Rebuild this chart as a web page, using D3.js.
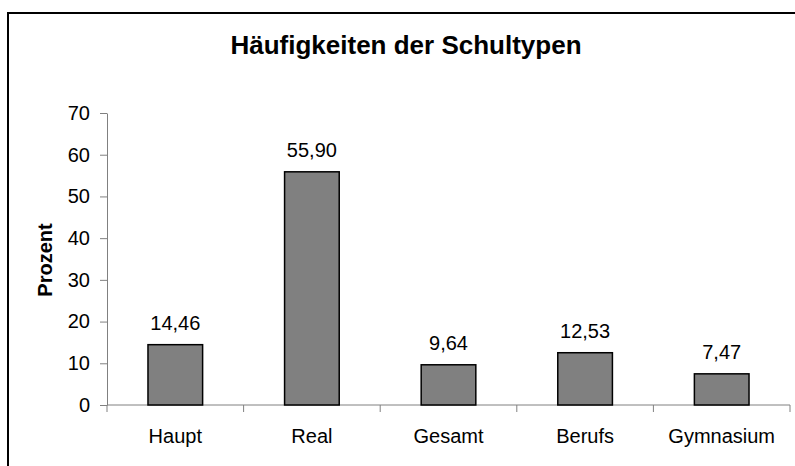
<!DOCTYPE html>
<html>
<head>
<meta charset="utf-8">
<script src="https://cdn.jsdelivr.net/npm/d3@7"></script>
<style>
    body { margin: 0; background: #fff; }
    text { font-family: "Liberation Sans", Arial, sans-serif; }
</style>
</head>
<body>
<div id="chart"></div>
<script>
const categories = ["Haupt", "Real", "Gesamt", "Berufs", "Gymnasium"];
const values = [14.46, 55.90, 9.64, 12.53, 7.47];
const yTicks = [0, 10, 20, 30, 40, 50, 60, 70];

const width = 795;
const height = 466;
const margin = {top: 113, right: 5, bottom: 61, left: 107};

const svg = d3.select("#chart")
    .append("svg")
    .attr("width", width)
    .attr("height", height);

// outer frame, cut off at right and bottom like the original
svg.append("rect")
    .attr("x", 8).attr("y", 13)
    .attr("width", 800).attr("height", 480)
    .attr("fill", "none")
    .attr("stroke", "#000")
    .attr("stroke-width", 2);

const x = d3.scaleBand()
    .domain(categories)
    .range([margin.left, width - margin.right])
    .paddingInner(0.6)
    .paddingOuter(0.3);

const y = d3.scaleLinear()
    .domain([0, 70])
    .range([height - margin.bottom, margin.top]);

// y axis
const yAxis = svg.append("g")
    .attr("transform", `translate(${margin.left},0)`)
    .call(d3.axisLeft(y).tickValues(yTicks).tickSize(7).tickSizeOuter(0).tickPadding(10));
yAxis.selectAll("text").attr("font-size", 20).attr("fill", "#000").attr("font-family", "Liberation Sans, Arial, sans-serif");
yAxis.select(".domain").attr("stroke", "#808080");
yAxis.selectAll(".tick line").attr("stroke", "#808080");

// x axis with ticks between categories
const xAxis = svg.append("g")
    .attr("transform", `translate(0,${y(0)})`);
xAxis.append("line")
    .attr("x1", margin.left).attr("x2", width - margin.right)
    .attr("stroke", "#808080");
const step = x.step();
const bounds = d3.range(categories.length + 1).map(i => margin.left + i * step);
xAxis.selectAll(".tk")
    .data(bounds)
    .join("line")
    .attr("x1", d => d).attr("x2", d => d)
    .attr("y1", 0).attr("y2", 7)
    .attr("stroke", "#808080");
xAxis.selectAll(".lbl")
    .data(categories)
    .join("text")
    .attr("x", d => x(d) + x.bandwidth() / 2)
    .attr("y", 38)
    .attr("text-anchor", "middle")
    .attr("font-size", 20)
    .text(d => d);

// bars
svg.selectAll(".bar")
    .data(values)
    .join("rect")
    .attr("x", (d, i) => x(categories[i]))
    .attr("y", d => y(d))
    .attr("width", x.bandwidth())
    .attr("height", d => y(0) - y(d))
    .attr("fill", "#808080")
    .attr("stroke", "#000")
    .attr("stroke-width", 1.5);

const fmt = d3.formatLocale({decimal: ",", thousands: ".", grouping: [3], currency: ["", "€"]}).format(".2f");

svg.selectAll(".val")
    .data(values)
    .join("text")
    .attr("x", (d, i) => x(categories[i]) + x.bandwidth() / 2)
    .attr("y", d => y(d) - 15)
    .attr("text-anchor", "middle")
    .attr("font-size", 20)
    .text(d => fmt(d));

// title
svg.append("text")
    .attr("x", 406)
    .attr("y", 54)
    .attr("text-anchor", "middle")
    .attr("font-size", 26)
    .attr("font-weight", "bold")
    .text("Häufigkeiten der Schultypen");

// y label
svg.append("text")
    .attr("transform", `translate(52,260) rotate(-90)`)
    .attr("text-anchor", "middle")
    .attr("font-size", 20)
    .attr("font-weight", "bold")
    .text("Prozent");
</script>
</body>
</html>
